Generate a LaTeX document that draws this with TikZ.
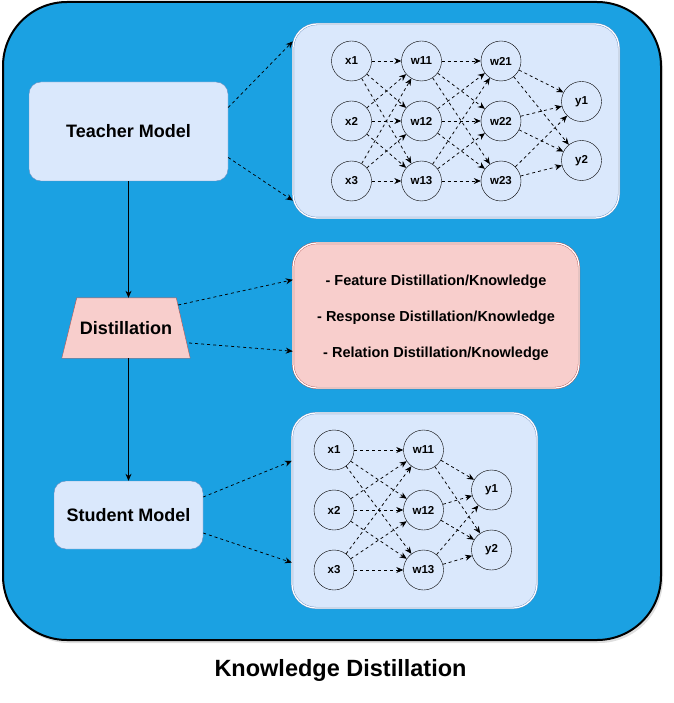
\documentclass[tikz,border=0pt]{standalone}
\usepackage{fontspec}
\setmainfont{Liberation Sans}
\usetikzlibrary{arrows.meta,shadows}

\definecolor{kdblue}{HTML}{1BA1E2}
\definecolor{lightblue}{HTML}{DAE8FC}
\definecolor{blueline}{HTML}{6C8EBF}
\definecolor{lightred}{HTML}{F8CECC}
\definecolor{redline}{HTML}{B85450}

\begin{document}
\begin{tikzpicture}[x=1pt,y=-1pt,>={Stealth[length=7pt,width=6pt]},
  box/.style={draw=blueline,fill=lightblue,rounded corners=12pt,
    font=\bfseries\fontsize{18}{20}\selectfont},
  panel/.style={draw=blueline,double=white,double distance=1.2pt,
    fill=lightblue,rounded corners=24pt},
  neuron/.style={circle,draw,fill=lightblue,minimum size=40pt,inner sep=0pt,
    font=\bfseries\fontsize{11.5}{12}\selectfont},
  kind/.style={font=\bfseries\fontsize{14.5}{16}\selectfont},
  link/.style={->,dash pattern=on 3pt off 3pt,line width=0.75pt},
  flow/.style={->,line width=0.7pt}]
\useasboundingbox (0,0) rectangle (673,703);

% frame
\draw[line width=2pt,fill=kdblue,rounded corners=64pt,
  drop shadow={opacity=0.25,shadow xshift=2pt,shadow yshift=-3pt}]
  (3,2) rectangle (661,640);

% panels
\node[panel,minimum width=326pt,minimum height=194pt] (tnet) at (456,121) {};
\node[panel,draw=redline,fill=lightred,minimum width=286pt,minimum height=145pt] (kinds) at (436,315.5) {};
\node[panel,minimum width=245pt,minimum height=195pt] (snet) at (414.5,510.5) {};

% left column
\node[box,minimum width=199pt,minimum height=99pt] (teacher) at (128.5,131.5) {Teacher Model};
\node[minimum width=128pt,minimum height=60pt] (distill) at (126,328) {};
\draw[redline,fill=lightred] ([xshift=15pt]distill.north west) -- ([xshift=-14pt]distill.north east)
  -- (distill.south east) -- (distill.south west) -- cycle;
\node[font=\bfseries\fontsize{18}{20}\selectfont] (distlabel) at (distill) {Distillation};
\node[box,minimum width=149pt,minimum height=68pt] (student) at (128.5,515) {Student Model};

\draw[flow] (teacher.south) -- (teacher.south |- distill.north);
\draw[flow] (distill.south -| student.north) -- (student.north);

% kinds of knowledge
\node[kind] (feat) at (436,282) {- Feature Distillation/Knowledge};
\node[kind] (resp) at (436,318) {- Response Distillation/Knowledge};
\node[kind] (rel) at (436,354) {- Relation Distillation/Knowledge};

% teacher network
\foreach \i/\y in {1/61,2/121,3/181} {
  \node[neuron] (tx\i) at (351.5,\y) {x\i};
  \node[neuron] (tw1\i) at (421.5,\y) {w1\i};
  \node[neuron] (tw2\i) at (501,\y) {w2\i};
}
\node[neuron] (ty1) at (581.5,101.5) {y1};
\node[neuron] (ty2) at (581.5,160.5) {y2};
\foreach \i in {1,2,3} {
  \foreach \j in {1,2,3} {
    \draw[link] (tx\i) -- (tw1\j);
    \draw[link] (tw1\i) -- (tw2\j);
  }
  \draw[link] (tw2\i) -- (ty1);
  \draw[link] (tw2\i) -- (ty2);
}

% student network
\foreach \i/\y in {1/450,2/510,3/570} {
  \node[neuron] (sx\i) at (334,\y) {x\i};
  \node[neuron] (sw\i) at (423.5,\y) {w1\i};
}
\node[neuron] (sy1) at (491.5,490) {y1};
\node[neuron] (sy2) at (491.5,550) {y2};
\foreach \i in {1,2,3} {
  \foreach \j in {1,2,3}
    \draw[link] (sx\i) -- (sw\j);
  \draw[link] (sw\i) -- (sy1);
  \draw[link] (sw\i) -- (sy2);
}

% links to panels
\draw[link] ([yshift=24pt]teacher.east) -- (tnet.154);
\draw[link] ([yshift=-26pt]teacher.east) -- (tnet.206);
\draw[link] ([xshift=-12pt,yshift=23pt]distill.east) -- (kinds.166);
\draw[link] ([xshift=-1pt,yshift=-15pt]distill.east) -- (kinds.194);
\draw[link] ([yshift=18pt]student.east) -- (snet.158);
\draw[link] ([yshift=-18pt]student.east) -- (snet.203);

% title
\node[font=\bfseries\fontsize{23.5}{26}\selectfont] (title) at (340.5,670.5) {Knowledge Distillation};
\end{tikzpicture}
\end{document}
